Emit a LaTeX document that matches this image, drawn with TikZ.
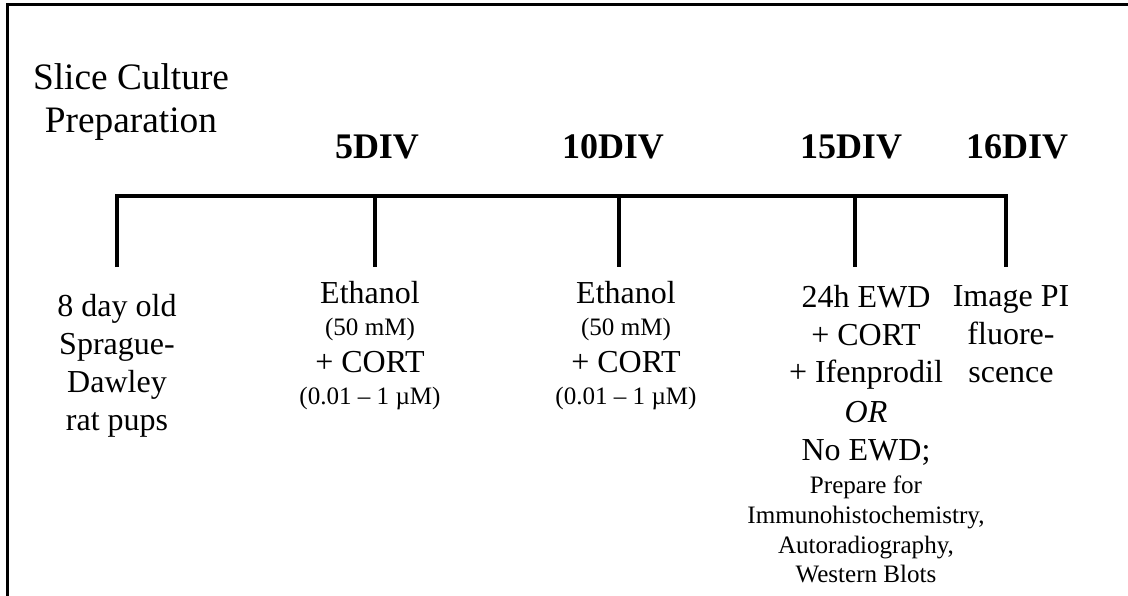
\documentclass[tikz,border=0pt]{standalone}
\usepackage{fontspec}
\setmainfont{Liberation Serif}
\usetikzlibrary{calc}

\tikzset{
  lbl/.style={align=center,inner sep=0pt,anchor=base,font=\fontsize{24}{28.5}\selectfont},
  daylbl/.style={inner sep=0pt,anchor=base,font=\fontsize{27}{32}\selectfont\bfseries},
  tickline/.style={line width=3pt}
}
\newcommand{\smtxt}[1]{{\fontsize{18.8}{22}\selectfont #1}}

\begin{document}
\begin{tikzpicture}[x=0.75pt,y=-0.75pt]
        \useasboundingbox (0,0) rectangle (1128,596);
        \clip (0,0) rectangle (1128,596);
        % frame, only left and top edges show
        \draw[line width=2.25pt] (7,4.5) rectangle (1140,610);
        % timeline
        \coordinate (A) at (117,196);
        \coordinate (B) at (375,196);
        \coordinate (C) at (619,196);
        \coordinate (D) at (855,196);
        \coordinate (E) at (1006,196);
        \coordinate (A') at (117,267);
        \coordinate (B') at (375,267);
        \coordinate (C') at (619,267);
        \coordinate (D') at (855,267);
        \coordinate (E') at (1006,267);
        \draw[tickline] (A')--(A)--(E)--(E');
        \draw[tickline] (B)--(B');
        \draw[tickline] (C)--(C');
        \draw[tickline] (D)--(D');
        % heading and days (base = last line)
        \node[lbl,font=\fontsize{28}{32.25}\selectfont] (prep) at (131,132) {Slice Culture\\Preparation};
        \node[daylbl] (d5) at (377,158) {5DIV};
        \node[daylbl] (d10) at (613,158) {10DIV};
        \node[daylbl] (d15) at (851,158) {15DIV};
        \node[daylbl] (d16) at (1017,158) {16DIV};
        % treatments
        \node[lbl] (pups) at (117,430) {8 day old\\Sprague-\\Dawley\\rat pups};
        \node[lbl] (eth1) at (370,404) {Ethanol\\[-4.5pt]\smtxt{(50 mM)}\\[-0.75pt]+ CORT\\[-4.5pt]\smtxt{(0.01 – 1 µM)}};
        \node[lbl] (eth2) at (626,404) {Ethanol\\[-4.5pt]\smtxt{(50 mM)}\\[-0.75pt]+ CORT\\[-4.5pt]\smtxt{(0.01 – 1 µM)}};
        \node[lbl] (ewd) at (866,582) {24h EWD\\+ CORT\\[-0.75pt]+ Ifenprodil\\[1.5pt]\textit{OR}\\No EWD;\\[-3.75pt]\smtxt{Prepare for}\\[-6pt]\smtxt{Immunohistochemistry,}\\[-6pt]\smtxt{Autoradiography,}\\[-6.75pt]\smtxt{Western Blots}};
        \node[lbl] (img) at (1011,382) {Image PI\\fluore-\\scence};
\end{tikzpicture}
\end{document}
